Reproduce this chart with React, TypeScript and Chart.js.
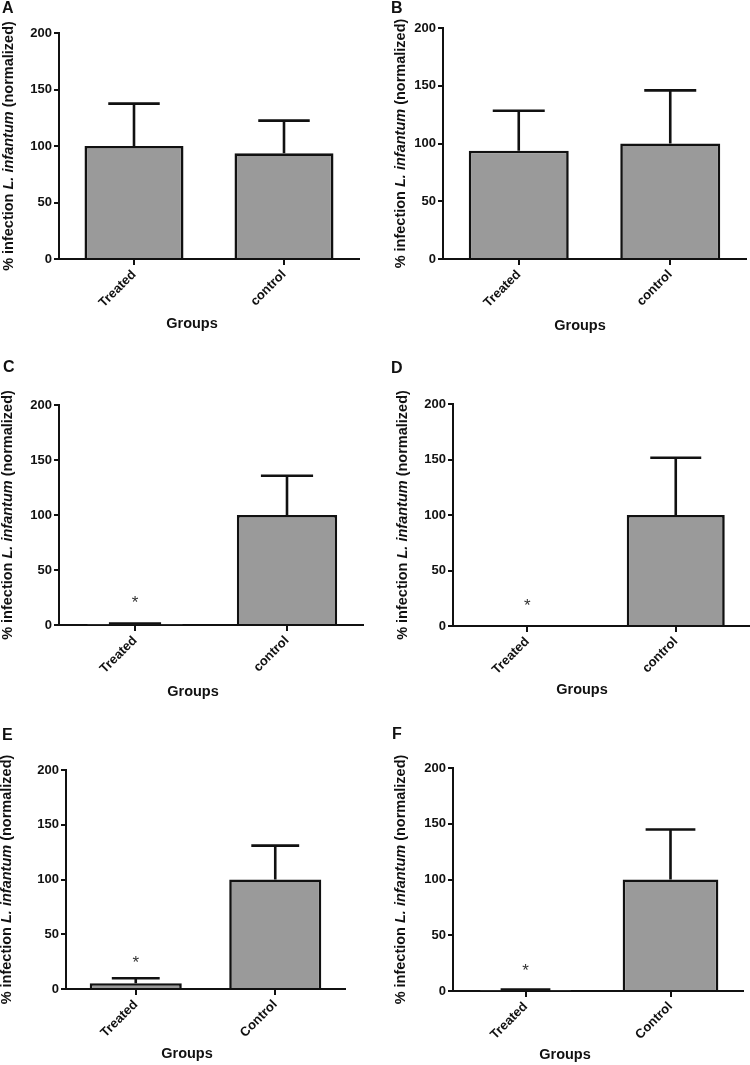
import { useEffect, useRef } from "react";
import { Chart, registerables } from "chart.js";

Chart.register(...registerables);

// ---------- data ----------
const groupsLower = ["Treated", "control"];
const groupsUpper = ["Treated", "Control"];
const yTickValues = [0, 50, 100, 150, 200];
const panelLetters = ["A", "B", "C", "D", "E", "F"];

const meanA = [100, 93.5];
const errA = [37.5, 29];
const meanB = [93.8, 100];
const errB = [34.6, 46];
const meanC = [0.3, 100];
const errC = [1.0, 35.7];
const meanD = [0, 100];
const errD = [0, 51.6];
const meanE = [5.2, 100];
const errE = [4.6, 30.9];
const meanF = [0.3, 100];
const errF = [1.0, 44.8];

const starA: (number | null)[] = [null, null];
const starB: (number | null)[] = [null, null];
const starC: (number | null)[] = [25, null];
const starD: (number | null)[] = [22.5, null];
const starE: (number | null)[] = [28, null];
const starF: (number | null)[] = [22.7, null];

const xTitle = "Groups";
const yTitleParts = [
  { text: "% infection ", italic: false },
  { text: "L. infantum", italic: true },
  { text: " (normalized)", italic: false },
];

// ---------- layout (page coords) ----------
type Layout = {
  x: number; y: number; w: number; h: number;
  left: number; top: number; right: number; bottom: number;
  yTitleX: number; groupsX: number; groupsY: number;
  letterX: number; letterY: number;
};

const layouts: Layout[] = [
  { x: 0, y: 0, w: 375, h: 340, left: 59, top: 33, right: 359, bottom: 259, yTitleX: 9, groupsX: 192, groupsY: 328, letterX: 2, letterY: 13 },
  { x: 375, y: 0, w: 375, h: 340, left: 443, top: 28, right: 746, bottom: 259, yTitleX: 401, groupsX: 580, groupsY: 330, letterX: 391, letterY: 13 },
  { x: 0, y: 340, w: 375, h: 360, left: 59, top: 405, right: 363, bottom: 625, yTitleX: 8, groupsX: 193, groupsY: 696, letterX: 3, letterY: 372 },
  { x: 375, y: 340, w: 375, h: 360, left: 453, top: 404, right: 750, bottom: 626, yTitleX: 403, groupsX: 582, groupsY: 694, letterX: 391, letterY: 373 },
  { x: 0, y: 700, w: 375, h: 365, left: 66, top: 770, right: 345, bottom: 989, yTitleX: 7, groupsX: 187, groupsY: 1058, letterX: 2, letterY: 740 },
  { x: 375, y: 700, w: 375, h: 365, left: 453, top: 768, right: 743, bottom: 991, yTitleX: 401, groupsX: 565, groupsY: 1059, letterX: 392, letterY: 739 },
];

const panels = [
  { labels: groupsLower, mean: meanA, err: errA, star: starA },
  { labels: groupsLower, mean: meanB, err: errB, star: starB },
  { labels: groupsLower, mean: meanC, err: errC, star: starC },
  { labels: groupsLower, mean: meanD, err: errD, star: starD },
  { labels: groupsUpper, mean: meanE, err: errE, star: starE },
  { labels: groupsUpper, mean: meanF, err: errF, star: starF },
];

const FONT = "'Liberation Sans', Arial, Helvetica, sans-serif";
const INK = "#111111";

function Panel({ idx }: { idx: number }) {
  const ref = useRef<HTMLCanvasElement | null>(null);
  const L = layouts[idx];
  const P = panels[idx];

  useEffect(() => {
    if (!ref.current) return;
    const decor = {
      id: "decor" + idx,
      afterDatasetsDraw(chart: any) {
        const ctx = chart.ctx;
        const ys = chart.scales.y;
        const meta = chart.getDatasetMeta(0);
        ctx.save();
        // error bars
        ctx.strokeStyle = INK;
        ctx.lineWidth = 2.6;
        ctx.lineCap = "butt";
        meta.data.forEach((el: any, i: number) => {
          const e = P.err[i];
          if (!e) return;
          const x = el.x;
          const half = el.width * 0.26;
          const y0 = ys.getPixelForValue(P.mean[i]);
          const y1 = ys.getPixelForValue(P.mean[i] + e);
          ctx.beginPath();
          ctx.moveTo(x, y0);
          ctx.lineTo(x, y1);
          ctx.moveTo(x - half, y1);
          ctx.lineTo(x + half, y1);
          ctx.stroke();
        });
        // asterisks
        ctx.fillStyle = "#333";
        ctx.font = `17px ${FONT}`;
        ctx.textAlign = "center";
        ctx.textBaseline = "alphabetic";
        meta.data.forEach((el: any, i: number) => {
          const s = P.star[i];
          if (s == null) return;
          const y = ys.getPixelForValue(s);
          ctx.fillText("*", el.x, y + 10);
        });
        ctx.restore();
      },
      afterDraw(chart: any) {
        const ctx = chart.ctx;
        const ca = chart.chartArea;
        ctx.save();
        // y title with italic species name
        const size = 14.5;
        const fonts = yTitleParts.map((p) =>
          p.italic ? `italic bold ${size}px ${FONT}` : `bold ${size}px ${FONT}`
        );
        let total = 0;
        const widths = yTitleParts.map((p, i) => {
          ctx.font = fonts[i];
          const w = ctx.measureText(p.text).width;
          total += w;
          return w;
        });
        ctx.translate(L.yTitleX - L.x, (ca.top + ca.bottom) / 2);
        ctx.rotate(-Math.PI / 2);
        ctx.fillStyle = INK;
        ctx.textBaseline = "middle";
        ctx.textAlign = "left";
        let cx = -total / 2;
        yTitleParts.forEach((p, i) => {
          ctx.font = fonts[i];
          ctx.fillText(p.text, cx, 0);
          cx += widths[i];
        });
        ctx.restore();

        ctx.save();
        ctx.fillStyle = INK;
        ctx.font = `bold 14.5px ${FONT}`;
        ctx.textAlign = "center";
        ctx.textBaseline = "alphabetic";
        ctx.fillText(xTitle, L.groupsX - L.x, L.groupsY - L.y);
        ctx.font = `bold 16px ${FONT}`;
        ctx.textAlign = "left";
        ctx.fillText(panelLetters[idx], L.letterX - L.x, L.letterY - L.y);
        ctx.restore();
      },
    };

    const tickFont = { family: FONT, size: 13, weight: "bold" as const };
    const chart = new Chart(ref.current, {
      type: "bar",
      data: {
        labels: P.labels,
        datasets: [
          {
            data: P.mean,
            backgroundColor: "#9a9a9a",
            borderColor: INK,
            borderWidth: 2.6,
            borderSkipped: "start",
            categoryPercentage: 0.66,
            barPercentage: 1,
          },
        ],
      },
      options: {
        responsive: false,
        animation: false,
        devicePixelRatio: 1,
        layout: {
          padding: { top: L.top - L.y, right: L.x + L.w - L.right, left: 0, bottom: 0 },
        },
        plugins: { legend: { display: false }, tooltip: { enabled: false } },
        scales: {
          x: {
            offset: true,
            grid: { offset: false, drawOnChartArea: false, drawTicks: true, tickLength: 6, color: INK, lineWidth: 2 },
            border: { display: true, color: INK, width: 2 },
            ticks: { minRotation: 45, maxRotation: 45, autoSkip: false, font: tickFont, color: INK, padding: 2 },
            afterFit: (s: any) => {
              s.height = L.y + L.h - L.bottom;
            },
          },
          y: {
            min: 0,
            max: 200,
            afterBuildTicks: (s: any) => {
              s.ticks = yTickValues.map((v) => ({ value: v }));
            },
            grid: { drawOnChartArea: false, drawTicks: true, tickLength: 5, color: INK, lineWidth: 2 },
            border: { display: true, color: INK, width: 2 },
            ticks: { font: tickFont, color: INK, padding: 2 },
            afterFit: (s: any) => {
              s.width = L.left - L.x;
            },
          },
        },
      },
      plugins: [decor],
    });
    return () => chart.destroy();
  }, [idx]);

  return (
    <canvas
      ref={ref}
      width={L.w}
      height={L.h}
      style={{ position: "absolute", left: L.x, top: L.y, width: L.w, height: L.h }}
    />
  );
}

export default function App() {
  return (
    <div style={{ position: "absolute", left: 0, top: 0, width: 750, height: 1065, background: "#fff" }}>
      {layouts.map((_, i) => (
        <Panel key={i} idx={i} />
      ))}
    </div>
  );
}
